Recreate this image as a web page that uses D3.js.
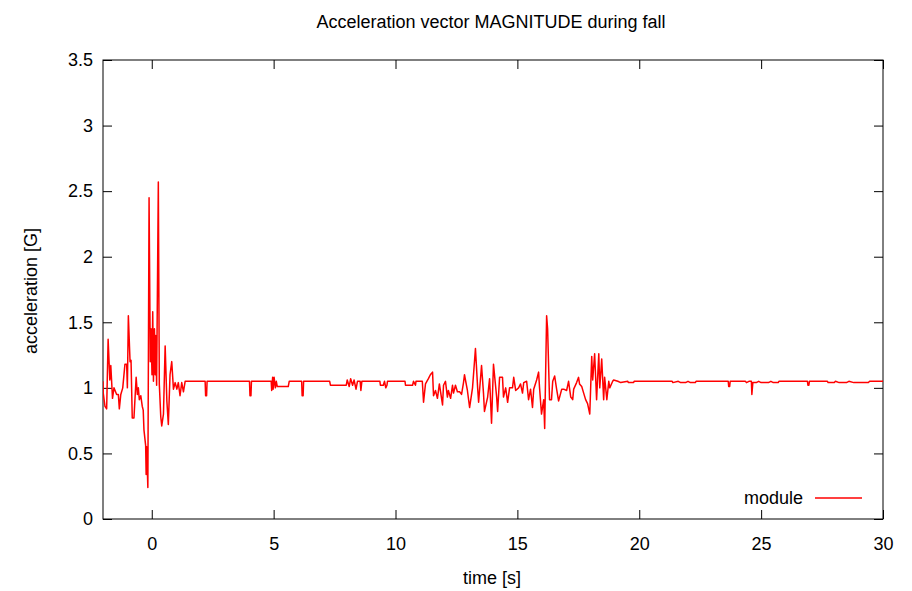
<!DOCTYPE html>
<html>
<head>
<meta charset="utf-8">
<script src="https://cdn.jsdelivr.net/npm/d3@7"></script>
<style>
  body { margin: 0; background: #fff; }
  svg { font-family: "Liberation Sans", Arial, sans-serif; }
</style>
</head>
<body>
<svg width="912" height="591"></svg>
<script>
// time [s] and acceleration magnitude [G]
var time = [-2.00, -1.99, -1.92, -1.85, -1.79, -1.72, -1.68, -1.61, -1.55, -1.44, -1.37, -1.33, -1.27, -1.19, -1.10, -1.03, -1.00, -0.96, -0.89, -0.85, -0.80, -0.73, -0.64, -0.59, -0.55, -0.51, -0.45, -0.39, -0.35, -0.32, -0.25, -0.23, -0.21, -0.16, -0.11, -0.06, -0.03, 0.01, 0.04, 0.07, 0.11, 0.14, 0.16, 0.20, 0.27, 0.31, 0.37, 0.41, 0.48, 0.55, 0.62, 0.68, 0.75, 0.82, 0.89, 0.96, 1.03, 1.09, 1.16, 1.23, 1.30, 1.37,
  2.19, 2.21, 2.25, 2.27, 4.01, 4.03, 4.07, 4.09,
  4.90, 4.92, 4.96, 4.98, 5.02, 5.07, 5.11, 5.15, 5.60, 5.64,
  6.15, 6.17, 6.21, 6.23,
  7.30, 7.33, 7.98, 8.02, 8.10, 8.16, 8.24, 8.30, 8.38, 8.44, 8.55, 8.58, 8.62,
  9.36, 9.38, 9.50, 9.55, 9.60, 9.65, 9.67, 10.39, 10.41, 10.70, 10.74, 10.82, 10.84,
  11.10, 11.15, 11.23, 11.35, 11.43, 11.52, 11.56, 11.64, 11.72, 11.80, 11.93, 11.97, 12.05, 12.13, 12.17, 12.26, 12.34, 12.38, 12.46, 12.54, 12.63, 12.71, 12.79, 12.83, 12.95, 13.04, 13.16, 13.20, 13.28, 13.37, 13.41, 13.53, 13.61, 13.65, 13.78, 13.86, 13.94, 14.02, 14.15, 14.19, 14.27, 14.39, 14.43, 14.52, 14.60, 14.68, 14.80, 14.85, 14.93, 15.05, 15.13,
  15.21, 15.26, 15.38, 15.46, 15.54, 15.62, 15.67, 15.79, 15.87, 15.91, 15.99, 16.08, 16.12, 16.20, 16.24, 16.32, 16.40, 16.45, 16.53, 16.61, 16.69, 16.82, 16.90, 17.02, 17.10, 17.19, 17.27, 17.31, 17.43, 17.51, 17.55, 17.64, 17.72, 17.80, 17.88, 17.97, 18.05, 18.09, 18.17, 18.25, 18.34, 18.38, 18.46, 18.54, 18.58, 18.67, 18.75, 18.79, 18.91, 18.95, 19.12, 19.24, 19.53, 19.55, 19.77, 19.79,
  21.35, 21.38, 21.60, 21.70, 21.90, 22.00, 22.10, 22.30, 22.33,
  23.65, 23.67, 23.71, 23.73,
  24.35, 24.40, 24.50, 24.60, 24.62, 24.66, 24.80, 24.90, 25.00, 25.30, 25.40, 25.50, 25.70, 25.73,
  26.90, 26.92, 26.96, 26.98,
  27.72, 27.75, 28.00, 28.05, 28.20, 28.50, 28.60, 28.80, 29.20, 29.40, 29.45, 30.00];

var accel = [1.05, 0.96, 0.86, 0.84, 1.37, 1.06, 1.17, 0.92, 1.00, 0.95, 0.95, 0.84, 0.95, 1.00, 1.18, 1.18, 1.00, 1.55, 1.20, 1.21, 0.77, 0.77, 1.08, 0.95, 1.00, 0.91, 0.94, 0.86, 0.83, 0.68, 0.56, 0.34, 0.55, 0.24, 2.45, 1.20, 1.45, 1.10, 1.58, 1.05, 1.45, 1.10, 1.40, 1.02, 2.57, 1.03, 0.78, 0.71, 0.80, 1.32, 0.90, 0.72, 1.10, 1.20, 0.99, 1.04, 0.99, 1.04, 0.94, 1.04, 0.97, 1.05,
  1.05, 0.94, 0.94, 1.05, 1.05, 0.94, 0.94, 1.05,
  1.05, 0.98, 1.08, 0.99, 1.08, 1.00, 1.05, 1.01, 1.01, 1.05,
  1.05, 0.94, 0.94, 1.05,
  1.05, 1.02, 1.02, 1.06, 1.01, 1.07, 1.02, 1.06, 0.99, 1.05, 1.05, 0.98, 1.05,
  1.05, 1.02, 1.02, 1.05, 1.00, 1.02, 1.05, 1.05, 1.02, 1.02, 1.05, 1.02, 1.05,
  1.05, 0.89, 1.03, 1.07, 1.10, 1.12, 0.94, 0.98, 0.92, 1.03, 0.87, 1.02, 1.05, 0.93, 0.98, 0.92, 1.02, 0.96, 1.02, 0.97, 0.97, 0.95, 1.04, 1.10, 0.98, 0.85, 1.00, 1.10, 1.30, 1.00, 0.89, 1.17, 0.96, 0.82, 0.93, 1.07, 0.73, 1.18, 0.93, 0.82, 1.08, 1.08, 0.93, 1.00, 0.89, 1.00, 1.00, 1.08, 0.98, 1.00, 1.03,
  0.96, 1.04, 1.05, 0.91, 0.99, 0.85, 0.99, 1.06, 1.12, 1.00, 0.80, 0.91, 0.69, 1.55, 1.45, 0.91, 0.91, 1.05, 1.09, 0.99, 0.90, 0.99, 0.99, 0.98, 1.05, 0.93, 0.91, 0.99, 1.04, 1.08, 1.03, 1.01, 0.96, 0.91, 0.88, 0.80, 1.24, 1.06, 1.26, 0.91, 1.26, 1.00, 1.22, 0.91, 1.08, 0.91, 1.05, 1.00, 1.05, 1.06, 1.05, 1.04, 1.05, 1.04, 1.04, 1.05,
  1.05, 1.04, 1.05, 1.04, 1.04, 1.05, 1.04, 1.04, 1.05,
  1.05, 1.01, 1.01, 1.05,
  1.05, 1.04, 1.05, 1.05, 0.95, 1.04, 1.04, 1.05, 1.04, 1.04, 1.05, 1.04, 1.04, 1.05,
  1.05, 1.02, 1.02, 1.05,
  1.05, 1.04, 1.04, 1.05, 1.04, 1.04, 1.05, 1.04, 1.04, 1.04, 1.05, 1.05];

var xTicks = [0, 5, 10, 15, 20, 25, 30];
var yTicks = [0, 0.5, 1, 1.5, 2, 2.5, 3, 3.5];
var seriesName = 'module';

var pLeft = 103, pRight = 883, pTop = 60, pBottom = 519;
var fontSize = '18px';
var svg = d3.select('svg');

var x = d3.scaleLinear().domain([-2, 30]).range([pLeft, pRight]);
var y = d3.scaleLinear().domain([0, 3.5]).range([pBottom, pTop]);

var data = time.map(function (t, i) { return { t: t, v: accel[i] }; });

svg.append('defs').append('clipPath').attr('id', 'clip')
    .append('rect').attr('x', pLeft).attr('y', pTop).attr('width', pRight - pLeft).attr('height', pBottom - pTop);

/* ----------- AXES ----------- */
function styleAxis(g) {
    g.select('.domain').remove();
    g.selectAll('line').attr('stroke', '#000').attr('stroke-width', 1);
    g.selectAll('text').attr('fill', '#000').style('font-size', fontSize);
}

svg.append('g').attr('transform', 'translate(0,' + pBottom + ')')
    .call(d3.axisBottom(x).tickValues(xTicks).tickSize(-9).tickPadding(18).tickFormat(d3.format('d')))
    .call(styleAxis);
svg.append('g').attr('transform', 'translate(0,' + pTop + ')')
    .call(d3.axisTop(x).tickValues(xTicks).tickSize(-9).tickFormat(''))
    .call(styleAxis);
svg.append('g').attr('transform', 'translate(' + pLeft + ',0)')
    .call(d3.axisLeft(y).tickValues(yTicks).tickSize(-9).tickPadding(10).tickFormat(d3.format('')))
    .call(styleAxis);
svg.append('g').attr('transform', 'translate(' + pRight + ',0)')
    .call(d3.axisRight(y).tickValues(yTicks).tickSize(-9).tickFormat(''))
    .call(styleAxis);

svg.append('rect')
    .attr('x', pLeft).attr('y', pTop).attr('width', pRight - pLeft).attr('height', pBottom - pTop)
    .attr('fill', 'none').attr('stroke', '#000').attr('stroke-width', 1);

/* ----------- LINE ----------- */
var line = d3.line().x(function (d) { return x(d.t); }).y(function (d) { return y(d.v); });

svg.append('path').datum(data)
    .attr('clip-path', 'url(#clip)')
    .attr('fill', 'none')
    .attr('stroke', '#ff0000')
    .attr('stroke-width', 1.5)
    .attr('stroke-linejoin', 'round')
    .attr('d', line);

/* ----------- LABELS ----------- */
svg.append('text').attr('x', 491).attr('y', 28).attr('text-anchor', 'middle')
    .style('font-size', fontSize).text('Acceleration vector MAGNITUDE during fall');
svg.append('text').attr('x', 492).attr('y', 584).attr('text-anchor', 'middle')
    .style('font-size', fontSize).text('time [s]');
svg.append('text').attr('transform', 'translate(37,291) rotate(-90)').attr('text-anchor', 'middle')
    .style('font-size', fontSize).text('acceleration [G]');

/* ----------- LEGEND ----------- */
svg.append('text').attr('x', 803).attr('y', 504).attr('text-anchor', 'end')
    .style('font-size', fontSize).text(seriesName);
svg.append('line').attr('x1', 815).attr('x2', 862).attr('y1', 498).attr('y2', 498)
    .attr('stroke', '#ff0000').attr('stroke-width', 1.5);
</script>
</body>
</html>
